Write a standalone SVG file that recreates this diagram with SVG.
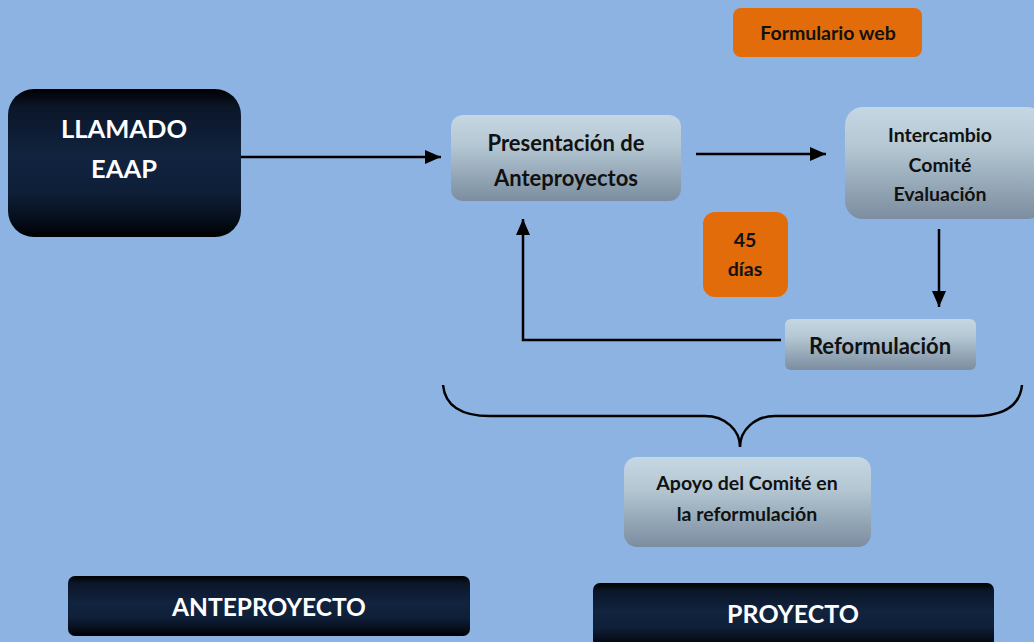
<svg xmlns="http://www.w3.org/2000/svg" width="1034" height="642" viewBox="0 0 1034 642">
<defs>
<linearGradient id="dark" x1="0" y1="0" x2="0" y2="1">
<stop offset="0" stop-color="#000000"/>
<stop offset="0.12" stop-color="#0b1628"/>
<stop offset="0.45" stop-color="#11233f"/>
<stop offset="0.7" stop-color="#0f1f38"/>
<stop offset="0.92" stop-color="#040a14"/>
<stop offset="1" stop-color="#000000"/>
</linearGradient>
<linearGradient id="light" x1="0" y1="0" x2="0" y2="1">
<stop offset="0" stop-color="#c4d7e2"/>
<stop offset="0.35" stop-color="#b4c7d3"/>
<stop offset="1" stop-color="#7b8d9f"/>
</linearGradient>
<marker id="ah2" markerWidth="16" markerHeight="14" refX="16" refY="7" orient="auto" markerUnits="userSpaceOnUse" viewBox="0 0 16 14">
<path d="M0,0 L16,7 L0,14 Z" fill="#000"/>
</marker>
</defs>
<style>
text { font-family: Lato, "Open Sans", "Liberation Sans", sans-serif; font-weight: bold; text-anchor: middle; }
.w { fill: #ffffff; }
.k { fill: #111111; }
.s { font-size: 19.5px; }
.m { font-size: 22px; }
.line { stroke: #000; stroke-width: 2.5; fill: none; }
</style>
<rect width="1034" height="642" fill="#8db3e2"/>

<g id="connectors">
<line class="line" x1="241" y1="157" x2="441" y2="157" marker-end="url(#ah2)"/>
<line class="line" x1="696" y1="154" x2="826" y2="154" marker-end="url(#ah2)"/>
<line class="line" x1="939" y1="229" x2="939" y2="307" marker-end="url(#ah2)"/>
<polyline class="line" points="781,340 523,340 523,219" marker-end="url(#ah2)"/>
<path class="line" stroke-width="2" d="M443,385 C445,405 460,416 490,416 L705,416 C725,416 740,430 740,447 C740,430 755,416 775,416 L975,416 C1005,416 1020,405 1022,385"/>
</g>

<g id="llamado">
<rect x="8" y="89" width="233" height="148" rx="26" fill="url(#dark)"/>
<text class="w" x="124" y="138" font-size="25.5">LLAMADO</text>
<text class="w" x="124" y="178" font-size="25.5">EAAP</text>
</g>

<g id="presentacion">
<rect x="451" y="115" width="230" height="86" rx="12" fill="url(#light)"/>
<text class="k m" x="566" y="151">Presentación de</text>
<text class="k m" x="566" y="186">Anteproyectos</text>
</g>

<g id="formulario">
<rect x="733" y="8" width="189" height="49" rx="8" fill="#e36c0a"/>
<text class="k s" x="828" y="40">Formulario web</text>
</g>

<g id="intercambio">
<rect x="845" y="107" width="200" height="112" rx="18" fill="url(#light)"/>
<text class="k s" x="940" y="142">Intercambio</text>
<text class="k s" x="940" y="172">Comité</text>
<text class="k s" x="940" y="201">Evaluación</text>
</g>

<g id="dias">
<rect x="703" y="212" width="85" height="85" rx="12" fill="#e36c0a"/>
<text class="k s" x="745" y="247">45</text>
<text class="k s" x="745" y="276">días</text>
</g>

<g id="reformulacion">
<rect x="785" y="319" width="191" height="51" rx="6" fill="url(#light)"/>
<text class="k m" x="880" y="354">Reformulación</text>
</g>

<g id="apoyo">
<rect x="624" y="457" width="247" height="90" rx="13" fill="url(#light)"/>
<text class="k s" x="747" y="490">Apoyo del Comité en</text>
<text class="k s" x="747" y="521">la reformulación</text>
</g>

<g id="anteproyecto">
<rect x="68" y="576" width="402" height="60" rx="7" fill="url(#dark)"/>
<text class="w" x="269" y="616" font-size="24.5">ANTEPROYECTO</text>
</g>

<g id="proyecto">
<rect x="593" y="583" width="401" height="64" rx="7" fill="url(#dark)"/>
<text class="w" x="793" y="623" font-size="25">PROYECTO</text>
</g>
</svg>
